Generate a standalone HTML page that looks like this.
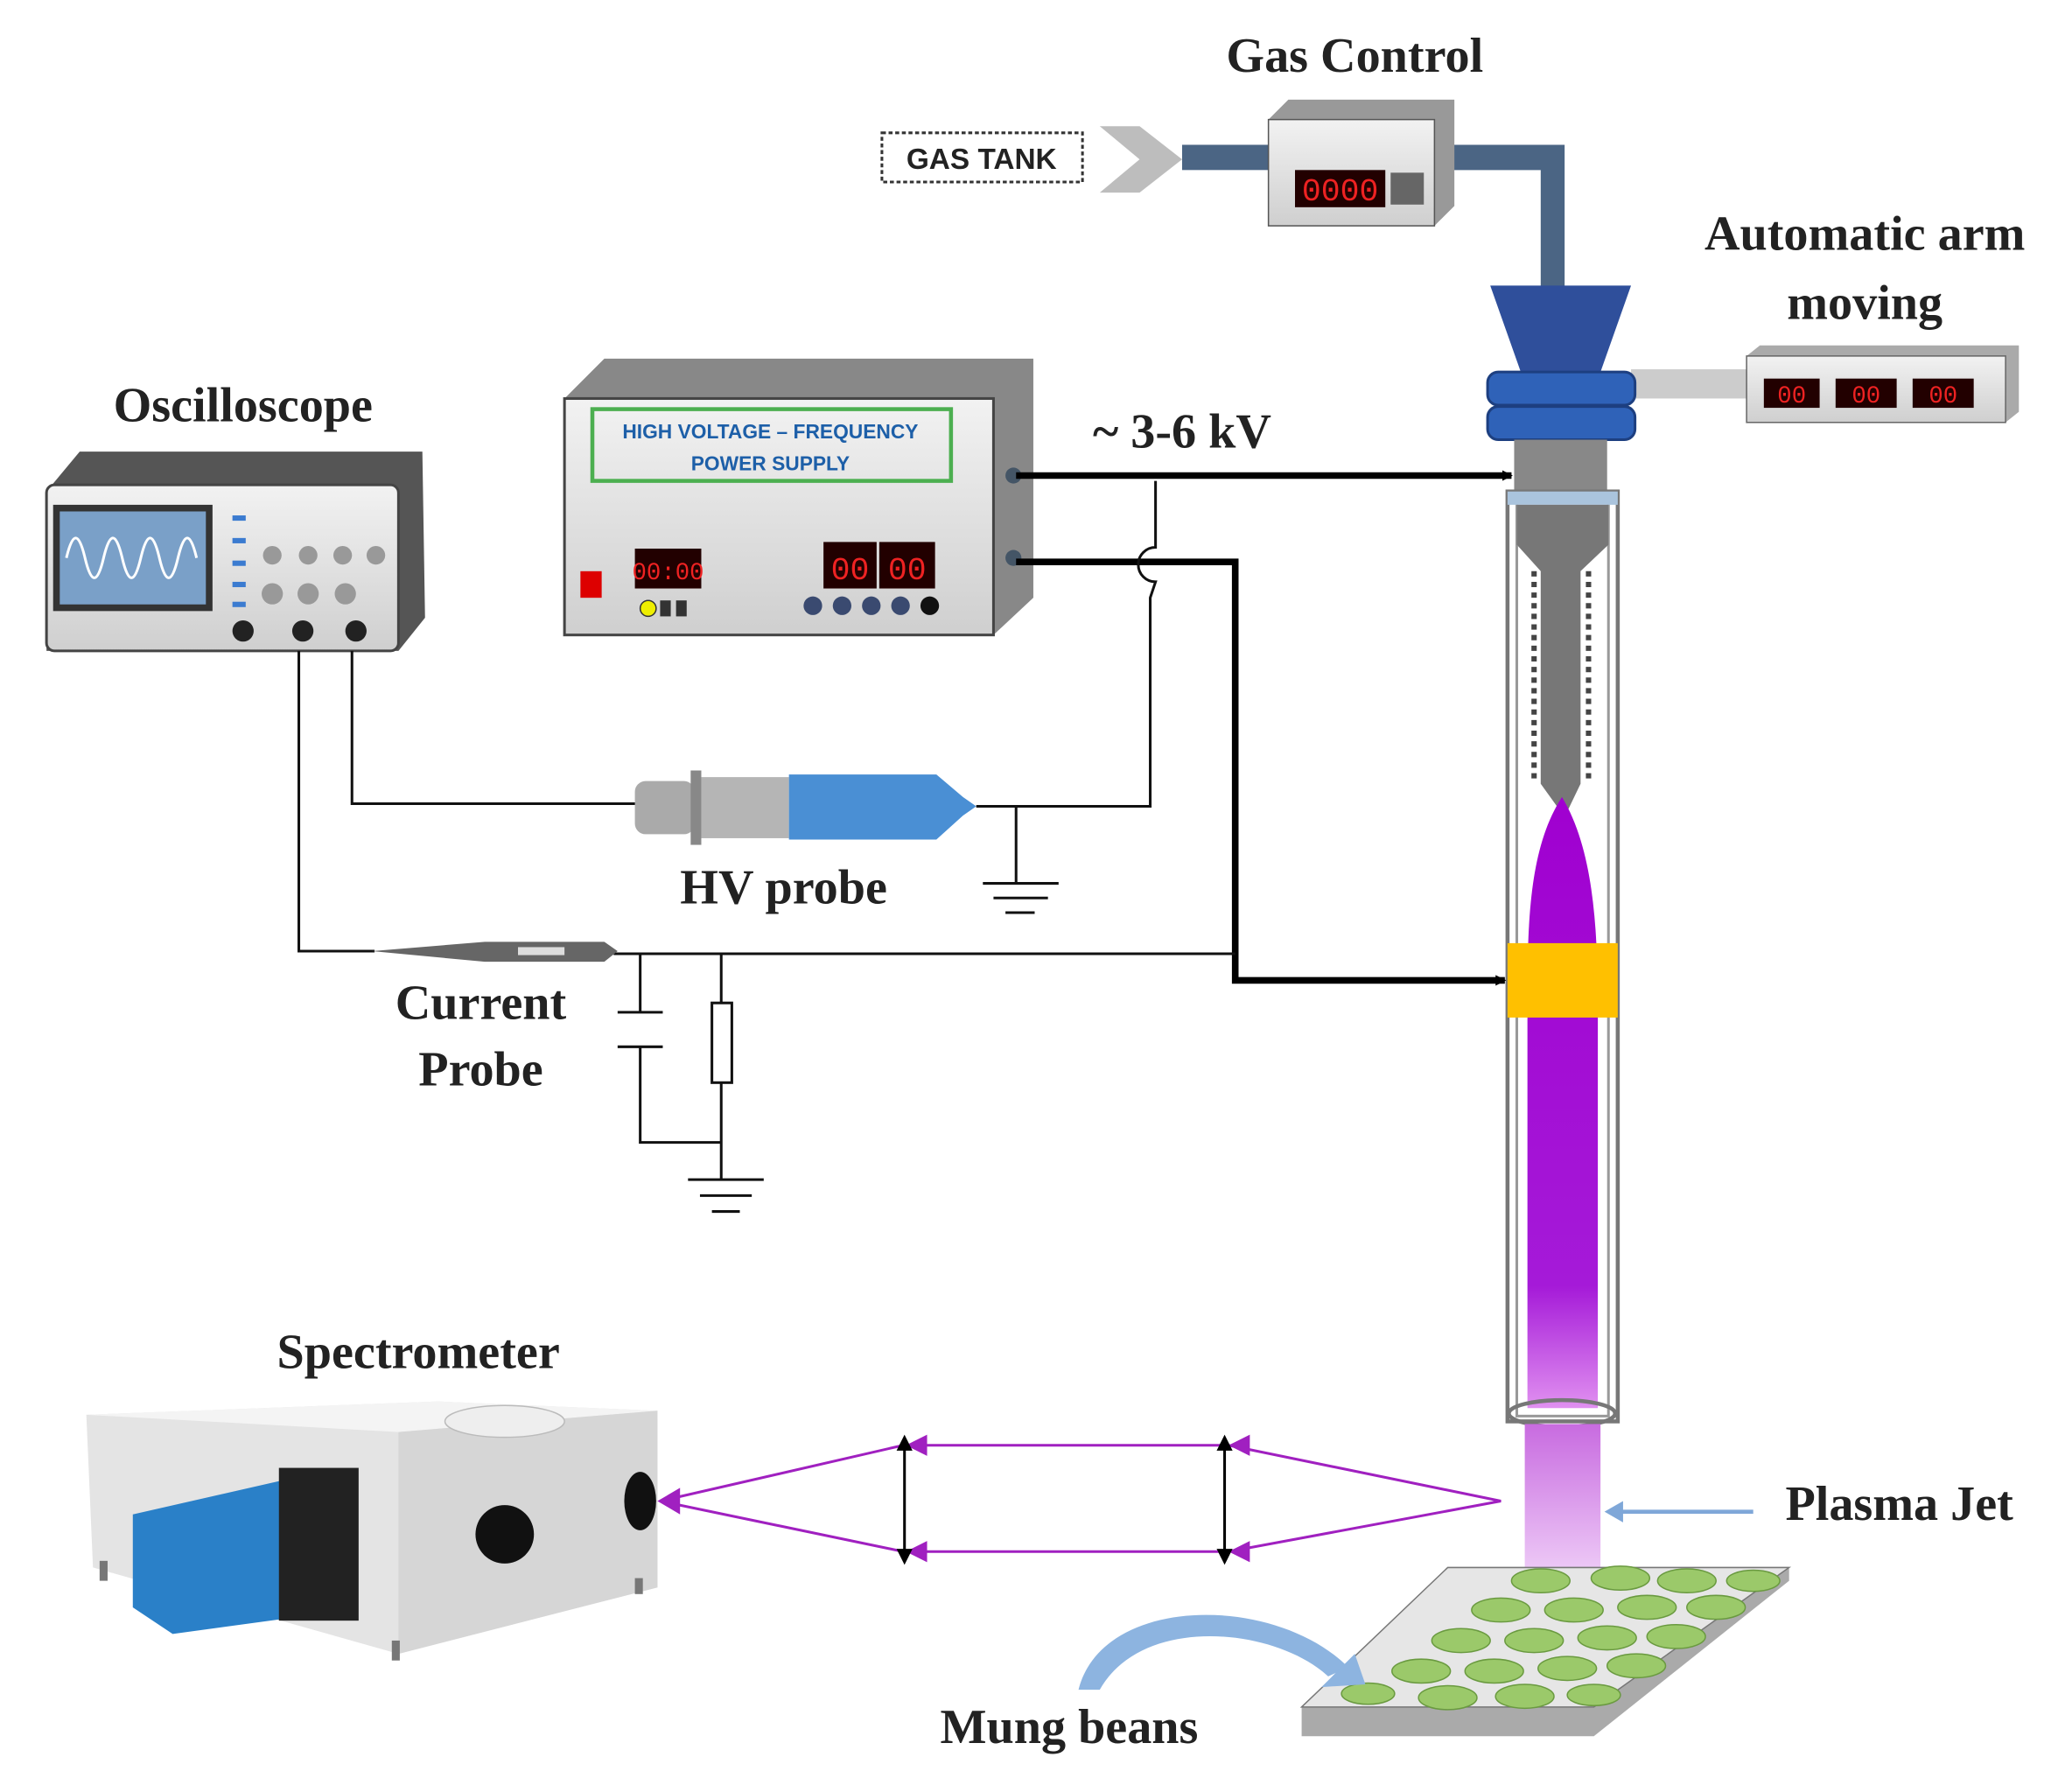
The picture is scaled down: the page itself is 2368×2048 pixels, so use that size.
<!DOCTYPE html>
<html><head><meta charset="utf-8"><style>
html,body{margin:0;padding:0;background:#fff;}
svg{display:block;}
.t{font-family:"Liberation Serif",serif;font-weight:bold;fill:#222;}
</style></head><body>
<svg width="2368" height="2048" viewBox="0 0 1560 1349" preserveAspectRatio="none" xmlns="http://www.w3.org/2000/svg">
<defs>
<linearGradient id="pj" x1="0" y1="0" x2="0" y2="1"><stop offset="0" stop-color="#c86be0"/><stop offset="1" stop-color="#f3d8fa"/></linearGradient>
<linearGradient id="pl" x1="0" y1="0" x2="0" y2="1"><stop offset="0" stop-color="#a000d0"/><stop offset="0.8" stop-color="#a51ad8"/><stop offset="1" stop-color="#e090f0"/></linearGradient>
<linearGradient id="box" x1="0" y1="0" x2="0" y2="1"><stop offset="0" stop-color="#f2f2f2"/><stop offset="1" stop-color="#cfcfcf"/></linearGradient>
<marker id="ah" markerWidth="8" markerHeight="8" refX="7" refY="4" orient="auto" markerUnits="userSpaceOnUse"><path d="M0,0 L8,4 L0,8z" fill="#000"/></marker>
</defs>

<text class="t" x="1020" y="54" font-size="37" text-anchor="middle">Gas Control</text>
<rect x="664" y="100" width="151" height="37" fill="#fff" stroke="#333" stroke-width="2" stroke-dasharray="3,2"/>
<text x="739" y="127" font-family="Liberation Sans,sans-serif" font-weight="bold" font-size="22" text-anchor="middle" fill="#222">GAS TANK</text>
<path d="M828,95 L858,95 L890,120 L858,145 L828,145 L858,120z" fill="#bdbdbd"/>
<rect x="890" y="109" width="70" height="19" fill="#4b6584"/>
<path d="M1090,109 L1178,109 L1178,220 L1160,220 L1160,128 L1090,128z" fill="#4b6584"/>
<path d="M955,90 L970,75 L1095,75 L1095,155 L1080,170 L955,170z" fill="#999"/>
<rect x="955" y="90" width="125" height="80" fill="url(#box)" stroke="#555"/>
<rect x="975" y="128" width="68" height="28" fill="#200"/>
<text x="1009" y="151" font-family="Liberation Mono,monospace" font-size="24" fill="#e22" text-anchor="middle">0000</text>
<rect x="1047" y="130" width="25" height="24" fill="#666"/>

<text class="t" x="1404" y="188" font-size="37" text-anchor="middle">Automatic  arm</text>
<text class="t" x="1404" y="240" font-size="37" text-anchor="middle">moving</text>
<rect x="1228" y="278" width="90" height="22" fill="#ccc"/>
<path d="M1315,268 L1325,260 L1520,260 L1520,310 L1510,318 L1315,318z" fill="#aaa"/>
<rect x="1315" y="268" width="195" height="50" fill="url(#box)" stroke="#666"/>
<rect x="1328" y="285" width="42" height="22" fill="#200"/><rect x="1382" y="285" width="46" height="22" fill="#200"/><rect x="1440" y="285" width="46" height="22" fill="#200"/>
<text x="1349" y="303" font-family="Liberation Mono,monospace" font-size="18" fill="#e22" text-anchor="middle">00</text>
<text x="1405" y="303" font-family="Liberation Mono,monospace" font-size="18" fill="#e22" text-anchor="middle">00</text>
<text x="1463" y="303" font-family="Liberation Mono,monospace" font-size="18" fill="#e22" text-anchor="middle">00</text>

<path d="M1122,215 L1228,215 L1205,280 L1145,280z" fill="#2f4f9b"/>
<rect x="1120" y="280" width="111" height="25" rx="8" fill="#2f62b8" stroke="#1d3f80" stroke-width="2"/>
<rect x="1120" y="306" width="111" height="25" rx="8" fill="#2f62b8" stroke="#1d3f80" stroke-width="2"/>
<rect x="1140" y="331" width="70" height="40" fill="#888"/>
<rect x="1135" y="370" width="83" height="700" fill="#fff" stroke="#777" stroke-width="3"/>
<rect x="1142" y="378" width="69" height="688" fill="none" stroke="#999" stroke-width="2"/>
<rect x="1135" y="370" width="83" height="10" fill="#aac4dd"/>
<path d="M1142,380 L1211,380 L1211,410 L1190,430 L1190,590 L1178,615 L1160,590 L1160,430 L1142,410z" fill="#777"/>
<path d="M1155,430 L1155,590 M1196,430 L1196,590" stroke="#444" stroke-width="4" stroke-dasharray="4,4"/>
<path d="M1176,600 C1150,640 1150,700 1150,760 L1150,1060 L1203,1060 L1203,760 C1203,700 1200,640 1176,600z" fill="url(#pl)"/>
<rect x="1135" y="710" width="83" height="56" fill="#ffc000"/>
<ellipse cx="1176" cy="1064" rx="40" ry="10" fill="none" stroke="#777" stroke-width="3"/>
<rect x="1148" y="1072" width="57" height="128" fill="url(#pj)"/>

<path d="M980,1285 L1090,1180 L1347,1180 L1347,1190 L1200,1307 L980,1307z" fill="#aaa"/>
<path d="M980,1285 L1090,1180 L1347,1180 L1200,1285z" fill="#e6e6e6" stroke="#777"/>
<g fill="#9bc96a" stroke="#6a9a40" stroke-width="1">
<ellipse cx="1160" cy="1190" rx="22" ry="9"/><ellipse cx="1220" cy="1188" rx="22" ry="9"/><ellipse cx="1270" cy="1190" rx="22" ry="9"/><ellipse cx="1320" cy="1190" rx="20" ry="8"/>
<ellipse cx="1130" cy="1212" rx="22" ry="9"/><ellipse cx="1185" cy="1212" rx="22" ry="9"/><ellipse cx="1240" cy="1210" rx="22" ry="9"/><ellipse cx="1292" cy="1210" rx="22" ry="9"/>
<ellipse cx="1100" cy="1235" rx="22" ry="9"/><ellipse cx="1155" cy="1235" rx="22" ry="9"/><ellipse cx="1210" cy="1233" rx="22" ry="9"/><ellipse cx="1262" cy="1232" rx="22" ry="9"/>
<ellipse cx="1070" cy="1258" rx="22" ry="9"/><ellipse cx="1125" cy="1258" rx="22" ry="9"/><ellipse cx="1180" cy="1256" rx="22" ry="9"/><ellipse cx="1232" cy="1254" rx="22" ry="9"/>
<ellipse cx="1030" cy="1275" rx="20" ry="8"/><ellipse cx="1090" cy="1278" rx="22" ry="9"/><ellipse cx="1148" cy="1277" rx="22" ry="9"/><ellipse cx="1200" cy="1276" rx="20" ry="8"/>
</g>
<text class="t" x="1430" y="1144" font-size="37" text-anchor="middle">Plasma  Jet</text>
<path d="M1320,1138 L1218,1138" stroke="#7fa7d8" stroke-width="3"/><path d="M1208,1138 L1222,1130 L1222,1146z" fill="#7fa7d8"/>
<text class="t" x="805" y="1312" font-size="37" text-anchor="middle">Mung beans</text>
<path d="M812,1272 C830,1200 960,1200 1015,1255 L1000,1262 C960,1225 860,1215 828,1272z" fill="#8db4e0"/>
<path d="M1028,1268 L995,1270 L1020,1245z" fill="#8db4e0"/>

<text class="t" x="183" y="317" font-size="37" text-anchor="middle">Oscilloscope</text>
<path d="M35,370 L60,340 L318,340 L320,465 L300,490 L35,490z" fill="#555"/>
<rect x="35" y="365" width="265" height="125" rx="6" fill="url(#box)" stroke="#444" stroke-width="2"/>
<rect x="40" y="380" width="120" height="80" fill="#333"/><rect x="45" y="385" width="110" height="70" fill="#7aa0c8"/>
<path d="M50,420 q7,-30 14,0 q7,30 14,0 q7,-30 14,0 q7,30 14,0 q7,-30 14,0 q7,30 14,0 q7,-30 14,0" stroke="#fff" stroke-width="2" fill="none"/>
<g fill="#999"><circle cx="205" cy="418" r="7"/><circle cx="232" cy="418" r="7"/><circle cx="258" cy="418" r="7"/><circle cx="283" cy="418" r="7"/><circle cx="205" cy="447" r="8"/><circle cx="232" cy="447" r="8"/><circle cx="260" cy="447" r="8"/></g>
<g fill="#3b7bd0"><rect x="175" y="388" width="10" height="4"/><rect x="175" y="405" width="10" height="4"/><rect x="175" y="422" width="10" height="4"/><rect x="175" y="438" width="10" height="4"/><rect x="175" y="453" width="10" height="4"/></g>
<circle cx="183" cy="475" r="8" fill="#222"/><circle cx="228" cy="475" r="8" fill="#222"/><circle cx="268" cy="475" r="8" fill="#222"/>

<path d="M425,300 L455,270 L778,270 L778,450 L748,478 L425,478z" fill="#888"/>
<rect x="425" y="300" width="323" height="178" fill="url(#box)" stroke="#444" stroke-width="2"/>
<rect x="446" y="308" width="270" height="54" fill="none" stroke="#4caf50" stroke-width="3"/>
<text x="580" y="330" font-family="Liberation Sans,sans-serif" font-weight="bold" font-size="15" fill="#1d5fa8" text-anchor="middle">HIGH VOLTAGE – FREQUENCY</text>
<text x="580" y="354" font-family="Liberation Sans,sans-serif" font-weight="bold" font-size="15" fill="#1d5fa8" text-anchor="middle">POWER SUPPLY</text>
<rect x="437" y="430" width="16" height="20" fill="#d00"/>
<rect x="478" y="413" width="50" height="30" fill="#200"/><text x="503" y="436" font-family="Liberation Mono,monospace" font-size="18" fill="#e22" text-anchor="middle">00:00</text>
<rect x="620" y="408" width="40" height="35" fill="#200"/><rect x="662" y="408" width="42" height="35" fill="#200"/>
<text x="640" y="436" font-family="Liberation Mono,monospace" font-size="24" fill="#e22" text-anchor="middle">00</text>
<text x="683" y="436" font-family="Liberation Mono,monospace" font-size="24" fill="#e22" text-anchor="middle">00</text>
<circle cx="488" cy="458" r="6" fill="#ee0" stroke="#333"/><rect x="497" y="452" width="8" height="12" fill="#333"/><rect x="509" y="452" width="8" height="12" fill="#333"/>
<g fill="#3a4a70"><circle cx="612" cy="456" r="7"/><circle cx="634" cy="456" r="7"/><circle cx="656" cy="456" r="7"/><circle cx="678" cy="456" r="7"/></g><circle cx="700" cy="456" r="7" fill="#111"/>
<circle cx="763" cy="358" r="6" fill="#456"/><circle cx="763" cy="420" r="6" fill="#456"/>
<text class="t" x="890" y="337" font-size="37" text-anchor="middle">~ 3-6 kV</text>

<path d="M765,358 L1138,358" stroke="#000" stroke-width="5" fill="none" marker-end="url(#ah)"/>
<path d="M765,423 L930,423 L930,738 L1133,738" stroke="#000" stroke-width="5" fill="none" marker-end="url(#ah)"/>
<g stroke="#111" stroke-width="2" fill="none">
<path d="M870,362 L870,412 A13,13 0 0 0 870,438 L866,450 L866,607 L735,607"/>
<path d="M765,607 L765,665 M740,665 L797,665 M748,676 L789,676 M757,687 L779,687"/>
<path d="M265,490 L265,605 L480,605"/>
<path d="M225,490 L225,716 L282,716"/>
<path d="M462,718 L930,718"/>
<path d="M482,718 L482,762 M465,762 L499,762 M465,788 L499,788 M482,788 L482,860 L543,860"/>
<path d="M543,718 L543,755 M543,815 L543,888 M518,888 L575,888 M527,900 L566,900 M536,912 L557,912"/>
</g>
<rect x="536" y="755" width="15" height="60" fill="#fff" stroke="#111" stroke-width="2"/>
<rect x="478" y="588" width="45" height="40" rx="8" fill="#aaa"/>
<rect x="520" y="580" width="8" height="56" fill="#888"/>
<rect x="528" y="585" width="66" height="46" fill="#b5b5b5"/>
<path d="M594,583 L705,583 L725,600 L735,607 L725,614 L705,632 L594,632z" fill="#4a8fd4"/>
<text class="t" x="590" y="680" font-size="37" text-anchor="middle">HV probe</text>
<path d="M280,716 L365,709 L455,709 L465,716 L455,724 L365,724z" fill="#666"/>
<rect x="390" y="713" width="35" height="6" fill="#ddd"/>
<text class="t" x="362" y="767" font-size="37" text-anchor="middle">Current</text>
<text class="t" x="362" y="817" font-size="37" text-anchor="middle">Probe</text>

<text class="t" x="315" y="1030" font-size="37" text-anchor="middle">Spectrometer</text>
<path d="M65,1065 L330,1055 L495,1062 L495,1195 L300,1245 L70,1180z" fill="#e4e4e4"/>
<path d="M65,1065 L330,1055 L495,1062 L300,1078z" fill="#f4f4f4"/>
<path d="M300,1078 L495,1062 L495,1195 L300,1245z" fill="#d6d6d6"/>
<ellipse cx="380" cy="1070" rx="45" ry="12" fill="#eee" stroke="#bbb"/>
<path d="M100,1140 L210,1115 L240,1130 L240,1215 L130,1230 L100,1210z" fill="#2a80c8"/>
<rect x="210" y="1105" width="60" height="115" fill="#222"/>
<circle cx="380" cy="1155" r="22" fill="#111"/><ellipse cx="482" cy="1130" rx="12" ry="22" fill="#111"/>
<rect x="75" y="1175" width="6" height="15" fill="#777"/><rect x="295" y="1235" width="6" height="15" fill="#777"/><rect x="478" y="1188" width="6" height="12" fill="#777"/>

<g stroke="#a020c0" stroke-width="2" fill="none">
<path d="M497,1130 L680,1088 L925,1088 L1130,1130 L925,1168 L680,1168 Z"/>
</g>
<g fill="#a020c0"><path d="M495,1130 L512,1120 L512,1140z"/><path d="M682,1088 L698,1080 L698,1096z"/><path d="M682,1168 L698,1160 L698,1176z"/><path d="M925,1088 L941,1080 L941,1096z"/><path d="M925,1168 L941,1160 L941,1176z"/></g>
<g stroke="#000" stroke-width="2"><path d="M681,1088 L681,1170 M922,1088 L922,1170"/></g>
<g fill="#000"><path d="M681,1080 L675,1092 L687,1092z"/><path d="M681,1178 L675,1166 L687,1166z"/><path d="M922,1080 L916,1092 L928,1092z"/><path d="M922,1178 L916,1166 L928,1166z"/></g>
</svg>
</body></html>
